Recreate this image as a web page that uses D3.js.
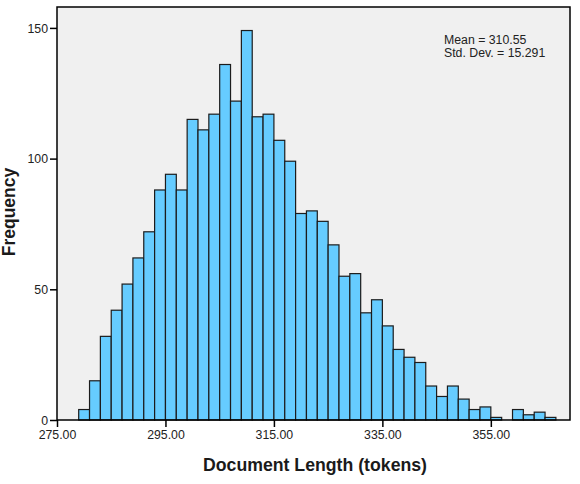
<!DOCTYPE html>
<html>
<head>
  <meta charset="UTF-8">
  <title>Document length histogram</title>
  <style type="text/css">
    body { margin: 0; background: #fff; }
    text { font-family: "Liberation Sans", Arial, sans-serif; }
  </style>
</head>
<body>
  <script src="https://d3js.org/d3.v7.min.js"></script>
  <script>
    // bins are 2 tokens wide, starting at 279
    var binStarts = [279, 281, 283, 285, 287, 289, 291, 293, 295, 297,
                     299, 301, 303, 305, 307, 309, 311, 313, 315, 317,
                     319, 321, 323, 325, 327, 329, 331, 333, 335, 337,
                     339, 341, 343, 345, 347, 349, 351, 353, 355, 357,
                     359, 361, 363, 365];
    var counts = [4, 15, 32, 42, 52, 62, 72, 88, 94, 88,
                  115, 111, 117, 136, 122, 149, 116, 117, 107, 99,
                  79, 80, 76, 67, 55, 56, 41, 46, 36, 27,
                  24, 22, 13, 9, 13, 8, 4, 5, 1, 0,
                  4, 2, 3, 1];
    var binWidth = 2;
    var xTicks = [275, 295, 315, 335, 355];
    var yTicks = [0, 50, 100, 150];
    var stats = ["Mean = 310.55", "Std. Dev. = 15.291"];

    var W = 580, H = 484;
    var plot = {left: 57, top: 7, right: 570, bottom: 420};

    var svg = d3.select("body").append("svg")
        .attr("width", W)
        .attr("height", H);

    var xScale = d3.scaleLinear()
        .domain([275, 369.6])
        .range([plot.left, plot.right]);
    var yScale = d3.scaleLinear()
        .domain([0, 158])
        .range([plot.bottom, plot.top]);

    // plot background
    svg.append("rect")
        .attr("x", plot.left)
        .attr("y", plot.top)
        .attr("width", plot.right - plot.left)
        .attr("height", plot.bottom - plot.top)
        .style("fill", "#f0f0f0");

    var data = binStarts.map(function(s, i) { return {start: s, count: counts[i]}; });

    svg.selectAll("rect.bar")
        .data(data.filter(function(d) { return d.count > 0; }))
      .enter().append("rect")
        .attr("class", "bar")
        .attr("x", function(d) { return xScale(d.start); })
        .attr("y", function(d) { return yScale(d.count); })
        .attr("width", function(d) { return xScale(d.start + binWidth) - xScale(d.start); })
        .attr("height", function(d) { return yScale(0) - yScale(d.count); })
        .style("fill", "#66ccff")
        .style("stroke", "#1c1c1c")
        .style("stroke-width", 1.2);

    // frame
    svg.append("rect")
        .attr("x", plot.left)
        .attr("y", plot.top)
        .attr("width", plot.right - plot.left)
        .attr("height", plot.bottom - plot.top)
        .style("fill", "none")
        .style("stroke", "#000")
        .style("stroke-width", 1.5);

    var xAxis = d3.axisBottom(xScale)
        .tickValues(xTicks)
        .tickFormat(d3.format(".2f"))
        .tickSize(7)
        .tickSizeOuter(0);
    var yAxis = d3.axisLeft(yScale)
        .tickValues(yTicks)
        .tickSize(7)
        .tickSizeOuter(0);

    var gx = svg.append("g")
        .attr("transform", "translate(0," + plot.bottom + ")")
        .call(xAxis);
    var gy = svg.append("g")
        .attr("transform", "translate(" + plot.left + ",0)")
        .call(yAxis);

    [gx, gy].forEach(function(g) {
      g.select(".domain").remove();
      g.selectAll(".tick line").style("stroke", "#000").style("stroke-width", 1.5);
      g.selectAll(".tick text")
          .style("font-family", "'Liberation Sans', Arial, sans-serif")
          .style("font-size", "12.3px")
          .style("fill", "#222");
    });
    gy.selectAll(".tick text").attr("x", -9).attr("dy", "0.35em");
    gx.selectAll(".tick text").attr("y", 10);

    // axis titles
    svg.append("text")
        .attr("x", 315)
        .attr("y", 471)
        .style("text-anchor", "middle")
        .style("font-weight", "bold")
        .style("font-size", "17.7px")
        .style("fill", "#1a1a1a")
        .text("Document Length (tokens)");

    svg.append("text")
        .attr("transform", "translate(15,212) rotate(-90)")
        .style("text-anchor", "middle")
        .style("font-weight", "bold")
        .style("font-size", "17.5px")
        .style("fill", "#1a1a1a")
        .text("Frequency");

    // stats box text
    svg.selectAll("text.stat")
        .data(stats)
      .enter().append("text")
        .attr("class", "stat")
        .attr("x", 444)
        .attr("y", function(d, i) { return 43.5 + i * 13; })
        .style("font-size", "12.3px")
        .style("fill", "#222")
        .text(function(d) { return d; });
  </script>
</body>
</html>
